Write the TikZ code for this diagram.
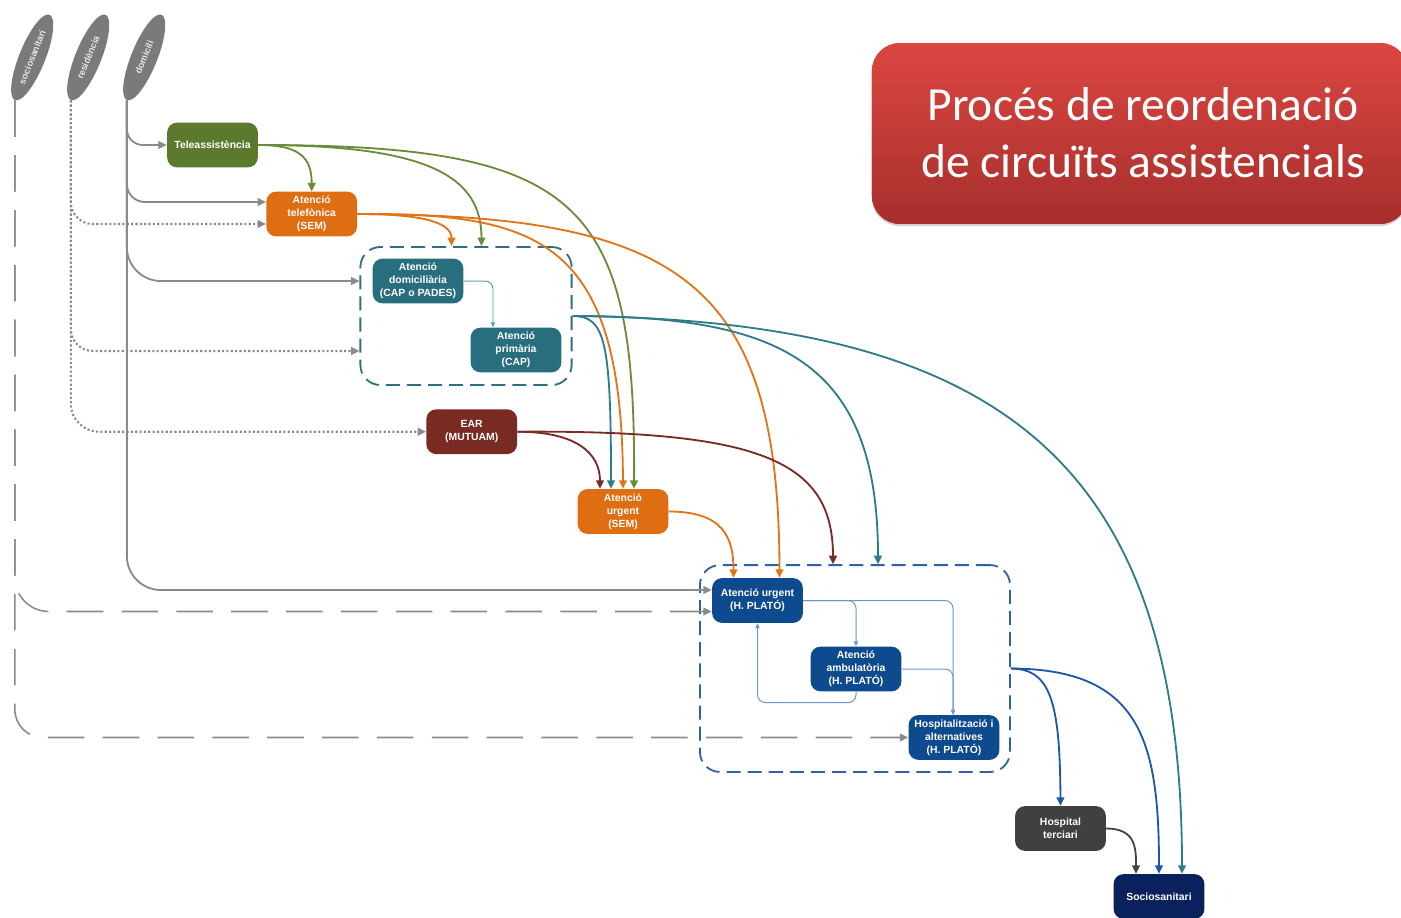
\documentclass[tikz,border=0pt]{standalone}
\usepackage{fontspec}
\newfontfamily\boxfont{Liberation Sans}
\newfontfamily\titlefont{Carlito}
\usetikzlibrary{arrows.meta,shapes.geometric,calc,shadows}

\definecolor{cgreen}{HTML}{5C7A2E}
\definecolor{lgreen}{HTML}{6A8C3A}
\definecolor{corange}{HTML}{DF6D12}
\definecolor{lorange}{HTML}{E27416}
\definecolor{cteal}{HTML}{286E7F}
\definecolor{lteal}{HTML}{2E7B8C}
\definecolor{tteal}{HTML}{5E9DAC}
\definecolor{gteal}{HTML}{2F6F82}
\definecolor{cred}{HTML}{782A23}
\definecolor{lred}{HTML}{7A2A24}
\definecolor{cnavy}{HTML}{0E4A8E}
\definecolor{gblue}{HTML}{2E62A6}
\definecolor{lblue}{HTML}{1D58A6}
\definecolor{tblue}{HTML}{6A97CF}
\definecolor{cdark}{HTML}{404040}
\definecolor{ldark}{HTML}{444444}
\definecolor{csocio}{HTML}{0B215E}
\definecolor{lgray}{HTML}{8A8A8A}
\definecolor{ellgray}{HTML}{7A7A7A}
\definecolor{titletop}{HTML}{DC4641}
\definecolor{titlebot}{HTML}{A62F2C}

\tikzset{
  stepbox/.style={rounded corners=0.25cm, minimum width=2.27cm, minimum height=1.12cm,
    inner sep=1pt, align=center, text=white,
    font=\boxfont\bfseries\fontsize{7.4}{9.2}\selectfont},
  origin/.style={ellipse, fill=ellgray, minimum width=2.3cm, minimum height=0.65cm,
    inner sep=0pt, rotate=68, text=gray!20,
    font=\boxfont\bfseries\fontsize{6.6}{7}\selectfont},
  group/.style={draw, rounded corners=0.5cm, line width=1.3pt, dash pattern=on 10pt off 5pt},
  link/.style={line width=1.3pt, -{Triangle[length=6pt,width=5.5pt]}},
  thinlink/.style={line width=0.7pt, -{Triangle[length=3.5pt,width=3pt]}},
  grayarrow/.style={draw=lgray, line width=1.3pt, -{Triangle[length=6pt,width=5.5pt]}},
  dotarrow/.style={grayarrow, line width=1.5pt, dash pattern=on 1.5pt off 1.6pt},
  longdash/.style={grayarrow, line width=1.1pt, dash pattern=on 26pt off 13pt},
}

\begin{document}
\begin{tikzpicture}[x=0.025cm,y=-0.025cm]
\useasboundingbox (0,0) rectangle (1401,917);

% title banner
\node[draw=none, fill=titlebot, top color=titletop, bottom color=titlebot,
      rounded corners=0.7cm, minimum width=13.4cm, minimum height=4.52cm,
      drop shadow={opacity=0.35, shadow xshift=0pt, shadow yshift=-1.5pt}]
      (banner) at (1140,133.5) {};
\node[text=white, align=center, font=\titlefont\fontsize{33.8}{40.5}\selectfont]
      (title) at (1143,133) {Procés de reordenació\\de circuïts assistencials};

% places of origin
\node[origin] (soc) at (32.2,57.4) {sociosanitari};
\node[origin] (res) at (88.2,57.4) {residència};
\node[origin] (dom) at (144.2,57.4) {domicili};

% grouping frames
\node[group, draw=gteal, minimum width=5.28cm, minimum height=3.45cm] (b1) at (466,316) {};
\node[group, draw=gblue, minimum width=7.75cm, minimum height=5.17cm] (b2) at (855,668.5) {};

% services
\node[stepbox, fill=cgreen] (tele) at (212.5,145) {Teleassistència};
\node[stepbox, fill=corange] (tel) at (311.7,214) {Atenció\\telefònica\\(SEM)};
\node[stepbox, fill=cteal] (domi) at (418,281) {Atenció\\domiciliària\\(CAP o PADES)};
\node[stepbox, fill=cteal] (prim) at (516,350) {Atenció\\primària\\(CAP)};
\node[stepbox, fill=cred] (ear) at (471.7,431.7) {EAR\\(MUTUAM)};
\node[stepbox, fill=corange] (usem) at (623,511.5) {Atenció\\urgent\\(SEM)};
\node[stepbox, fill=cnavy] (urgh) at (757.5,600.5) {Atenció urgent\\(H. PLATÓ)};
\node[stepbox, fill=cnavy] (amb) at (856,669) {Atenció\\ambulatòria\\(H. PLATÓ)};
\node[stepbox, fill=cnavy] (hosp) at (954,737.5) {Hospitalització i\\alternatives\\(H. PLATÓ)};
\node[stepbox, fill=cdark] (terc) at (1060.5,828.5) {Hospital\\terciari};
\node[stepbox, fill=csocio] (socio) at (1159,896.5) {Sociosanitari};

% routes from home
\draw[grayarrow, rounded corners=0.4cm] (dom.west) |- (tele.west);
\draw[grayarrow, rounded corners=0.45cm] (dom.west) |- ($(tel.west)+(0,-12)$);
\draw[grayarrow, rounded corners=0.85cm] (dom.west) |- ($(b1.west)+(0,-35)$);
\draw[grayarrow, rounded corners=0.85cm] (dom.west) |- ($(urgh.west)+(0,-10.5)$);

% routes from residence
\draw[dotarrow, rounded corners=0.55cm] (res.west) |- ($(tel.west)+(0,10)$);
\draw[dotarrow, rounded corners=0.55cm] (res.west) |- ($(b1.west)+(0,35)$);
\draw[dotarrow, rounded corners=0.7cm] (res.west) |- (ear.west);

% routes from social-care centres
\draw[longdash, rounded corners=0.85cm] (soc.west) |- ($(urgh.west)+(0,11)$);
\draw[longdash, rounded corners=0.7cm] (soc.west) |- (hosp.west);

% telecare
\draw[link, color=lgreen]
  (tele.east) .. controls +(40,0) and +(0,-35) .. (tel.north);
\draw[link, color=lgreen]
  (tele.east) .. controls +(170,0) and +(0,-70) .. ($(b1.north)+(15.5,0)$);
\draw[link, color=lgreen]
  (tele.east) .. controls (580,145) and (636,200) .. ($(usem.north)+(11,0)$);

% telephone assistance
\draw[link, color=lorange]
  (tel.east) .. controls +(60,0) and +(0,-25) .. ($(b1.north)+(-14.5,0)$);
\draw[link, color=lorange]
  (tel.east) .. controls (540,213) and (622,240) .. (usem.north);
\draw[link, color=lorange]
  (tel.east) .. controls (680,215) and (779,280) .. ($(urgh.north)+(22,0)$);

% home and primary care
\draw[thinlink, color=tteal, rounded corners=0.2cm] (domi.east) -| ($(prim.north)+(-23,0)$);
\draw[link, color=lteal]
  (b1.east) .. controls (605,316) and (611,340) .. ($(usem.north)+(-12,0)$);
\draw[link, color=lteal]
  (b1.east) .. controls (780,316) and (878,360) .. ($(b2.north)+(23,0)$);
\draw[link, color=lteal]
  (b1.east) .. controls (1000,320) and (1182,460) .. ($(socio.north)+(23,0)$);

% EAR
\draw[link, color=lred]
  (ear.east) .. controls +(60,0) and +(0,-35) .. ($(usem.north)+(-23,0)$);
\draw[link, color=lred]
  (ear.east) .. controls (760,430) and (833,460) .. ($(b2.north)+(-22,0)$);

% emergency service
\draw[link, color=lorange]
  (usem.east) .. controls +(55,0) and +(0,-40) .. ($(urgh.north)+(-24,0)$);

% inside the hospital
\draw[thinlink, color=tblue, rounded corners=0.2cm] (urgh.east) -| (amb.north);
\draw[thinlink, color=tblue, rounded corners=0.2cm] (urgh.east) -| ($(hosp.north)+(-1,0)$);
\draw[thinlink, color=tblue, rounded corners=0.2cm] (amb.east) -| ($(hosp.north)+(-1,0)$);
\draw[thinlink, color=tblue, rounded corners=0.2cm] (amb.south) -- ++(0,11) -| (urgh.south);

% discharge
\draw[link, color=lblue]
  (b2.east) .. controls (1050,669) and (1060,700) .. (terc.north);
\draw[link, color=lblue]
  (b2.east) .. controls (1140,669) and (1159,740) .. (socio.north);
\draw[link, color=ldark]
  (terc.east) .. controls +(30,0) and +(0,-25) .. ($(socio.north)+(-23,0)$);
\end{tikzpicture}
\end{document}
